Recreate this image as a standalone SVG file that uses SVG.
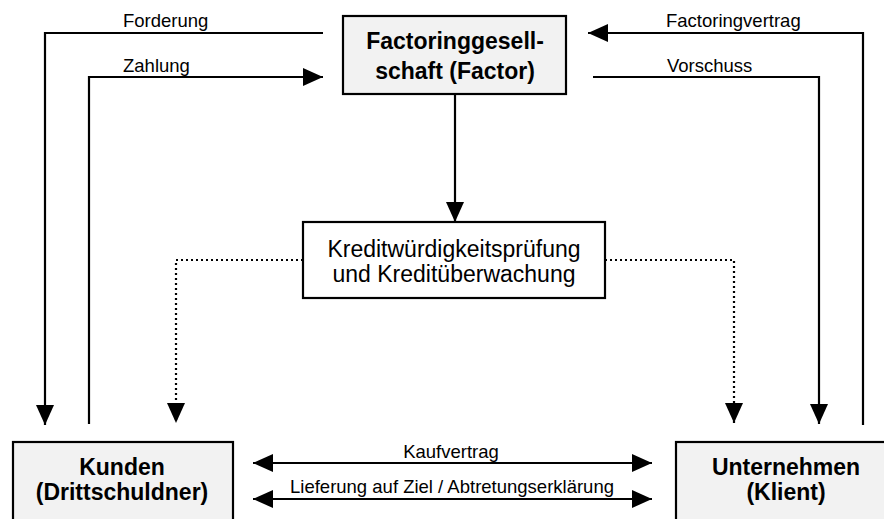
<svg xmlns="http://www.w3.org/2000/svg" width="884" height="519" viewBox="0 0 884 519">
<style>
.box{stroke:#000;stroke-width:2.2;}
.grey{fill:#f2f2f2;}
.white{fill:#fff;}
.bt{font-family:"Liberation Sans",Arial,sans-serif;font-weight:bold;font-size:23px;text-anchor:middle;fill:#000;}
.rt{font-family:"Liberation Sans",Arial,sans-serif;font-size:23px;text-anchor:middle;fill:#000;}
.lb{font-family:"Liberation Sans",Arial,sans-serif;font-size:18.5px;fill:#000;}
.ln{fill:none;stroke:#000;stroke-width:2.2;}
.dot{fill:none;stroke:#000;stroke-width:2.2;stroke-dasharray:2 3;}
</style>
<defs>
<marker id="ah" viewBox="0 0 20 18" refX="20" refY="9" markerWidth="20" markerHeight="18" markerUnits="userSpaceOnUse" orient="auto-start-reverse">
<path d="M0,0 L20,9 L0,18 Z" fill="#000"/>
</marker>
</defs>
<rect width="884" height="519" fill="#fff"/>
<g id="connectors">
<polyline class="ln" points="323,33 45,33 45,425" marker-end="url(#ah)"/>
<polyline class="ln" points="89,424 89,77 323,77" marker-end="url(#ah)"/>
<polyline class="ln" points="863,425 863,33 588,33" marker-end="url(#ah)"/>
<polyline class="ln" points="593,77 819,77 819,424" marker-end="url(#ah)"/>
<line class="ln" x1="455" y1="94" x2="455" y2="222" marker-end="url(#ah)"/>
<polyline class="dot" points="303,260 176,260 176,423" marker-end="url(#ah)"/>
<polyline class="dot" points="605,260 734,260 734,423" marker-end="url(#ah)"/>
<line class="ln" x1="253" y1="463" x2="652" y2="463" marker-start="url(#ah)" marker-end="url(#ah)"/>
<line class="ln" x1="253" y1="499" x2="652" y2="499" marker-start="url(#ah)" marker-end="url(#ah)"/>
<text class="lb" x="123" y="27">Forderung</text>
<text class="lb" x="123" y="72">Zahlung</text>
<text class="lb" x="666" y="27">Factoringvertrag</text>
<text class="lb" x="667" y="72">Vorschuss</text>
<text class="lb" x="451" y="458" text-anchor="middle">Kaufvertrag</text>
<text class="lb" x="452" y="493" text-anchor="middle">Lieferung auf Ziel / Abtretungserklärung</text>
</g>
<g id="factor">
<rect class="box grey" x="343" y="16" width="223" height="78"/>
<text class="bt" x="455" y="49">Factoringgesell-</text>
<text class="bt" x="455" y="79">schaft (Factor)</text>
</g>
<g id="kredit">
<rect class="box white" x="303" y="222" width="302" height="76"/>
<text class="rt" x="454" y="257">Kreditwürdigkeitsprüfung</text>
<text class="rt" x="454" y="282">und Kreditüberwachung</text>
</g>
<g id="kunden">
<rect class="box grey" x="13" y="442" width="220" height="90"/>
<text class="bt" x="122" y="475">Kunden</text>
<text class="bt" x="122" y="500">(Drittschuldner)</text>
</g>
<g id="unternehmen">
<rect class="box grey" x="676" y="442" width="220" height="90"/>
<text class="bt" x="786" y="475">Unternehmen</text>
<text class="bt" x="786" y="500">(Klient)</text>
</g>
</svg>
